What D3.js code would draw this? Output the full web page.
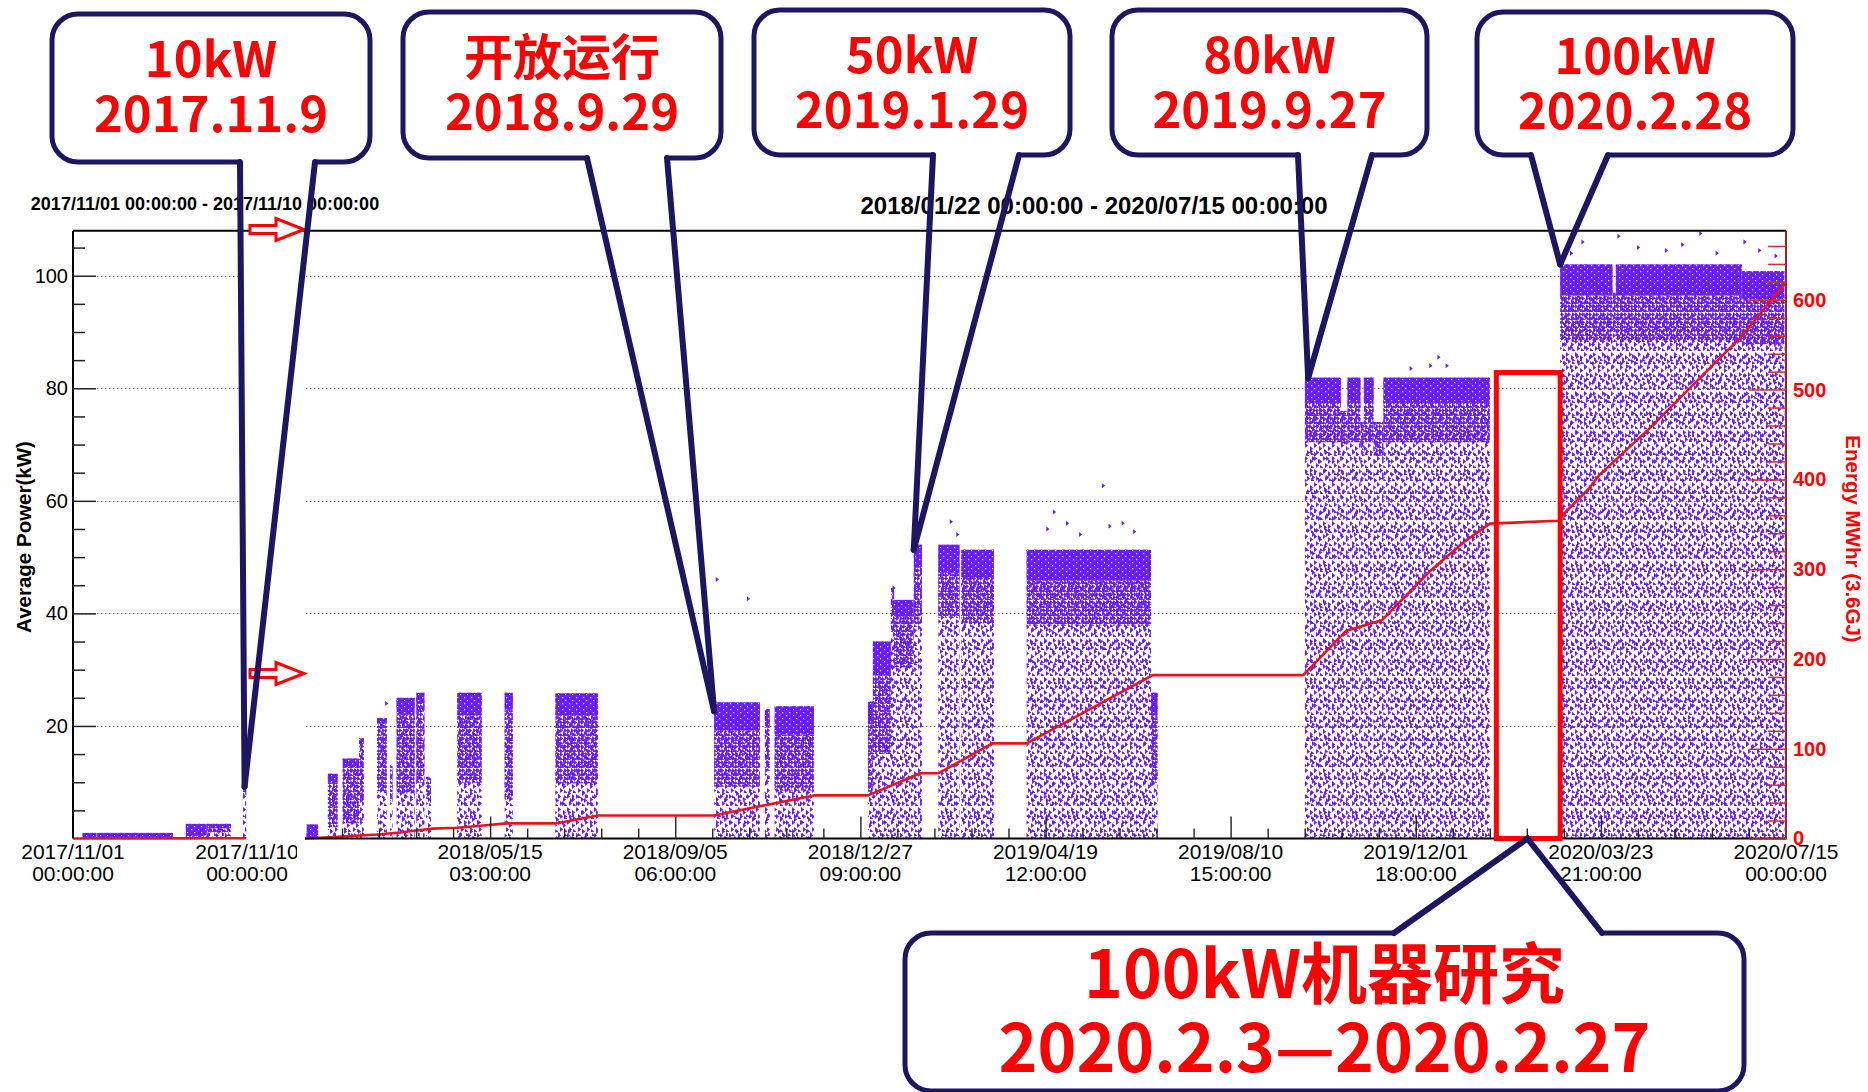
<!DOCTYPE html>
<html lang="zh">
<head>
<meta charset="utf-8">
<title>Beam power history</title>
<script src="https://cdn.jsdelivr.net/npm/d3@7/dist/d3.min.js"></script>
<style>
  html, body { margin: 0; padding: 0; background: #fff; }
  svg { display: block; }
</style>
</head>
<body>
<svg id="chart" width="1868" height="1092"></svg>
<script>
// ---------- time windows of the two panels ----------
const earlyWindow = ["2017-11-01T00:00", "2017-11-10T00:00"];
const mainWindow  = ["2018-01-22T00:00", "2020-07-15T00:00"];

// ---------- axis ticks ----------
const earlyTickLabels = ["2017/11/01 00:00:00", "2017/11/10 00:00:00"];
const mainTickLabels = [
  "2018/05/15 03:00:00", "2018/09/05 06:00:00", "2018/12/27 09:00:00",
  "2019/04/19 12:00:00", "2019/08/10 15:00:00", "2019/12/01 18:00:00",
  "2020/03/23 21:00:00", "2020/07/15 00:00:00"
];
const powerTicks  = [20, 40, 60, 80, 100];
const energyTicks = [0, 100, 200, 300, 400, 500, 600];

// ---------- beam-on periods: [start, end, top kW, dense band kW, medium band kW] ----------
const earlyRuns = [
  ["2017-11-01T12:00", "2017-11-02T05:00", 1.0, 1.0, 0],
  ["2017-11-02T06:00", "2017-11-06T04:00", 1.0, 1.0, 0],
  ["2017-11-06T20:00", "2017-11-07T22:00", 2.6, 2.0, 0.6],
  ["2017-11-07T22:00", "2017-11-09T04:00", 2.6, 0.8, 0.8],
  ["2017-11-09T19:00", "2017-11-09T23:00", 9.8, 0, 2]
];
const mainRuns = [
  ["2018-01-23", "2018-01-30", 2.5, 2.5, 0],
  ["2018-02-05", "2018-02-11", 11.5, 1.5, 8],
  ["2018-02-14", "2018-02-24", 14.2, 1.5, 10],
  ["2018-02-24", "2018-02-27", 17.8, 1.0, 10],
  ["2018-03-07", "2018-03-13", 21.4, 1.0, 12],
  ["2018-03-15", "2018-03-16", 13.0, 0, 6],
  ["2018-03-19", "2018-03-30", 25.0, 3.0, 14],
  ["2018-03-31", "2018-04-05", 25.9, 2.0, 14],
  ["2018-04-06", "2018-04-09", 11.0, 0, 4],
  ["2018-04-25", "2018-05-10", 25.9, 4.0, 12],
  ["2018-05-24", "2018-05-29", 25.9, 3.0, 16],
  ["2018-06-24", "2018-07-20", 25.8, 4.0, 12],
  ["2018-09-29", "2018-10-27", 24.2, 5.0, 10],
  ["2018-10-30", "2018-11-02", 23.0, 3.0, 8],
  ["2018-11-05", "2018-11-29", 23.5, 5.0, 10],
  ["2019-01-01", "2019-01-04", 24.3, 4.0, 12],
  ["2019-01-04", "2019-01-15", 35.0, 6.0, 14],
  ["2019-01-15", "2019-01-17", 44.5, 0, 8],
  ["2019-01-17", "2019-01-29", 42.4, 3.0, 9],
  ["2019-01-29", "2019-02-03", 52.2, 4.0, 10],
  ["2019-02-13", "2019-02-26", 52.2, 5.0, 8],
  ["2019-02-27", "2019-03-19", 51.3, 5.0, 8],
  ["2019-04-08", "2019-06-23", 51.3, 5.5, 8],
  ["2019-06-23", "2019-06-27", 25.9, 4.0, 12],
  ["2019-09-25", "2019-10-17", 81.9, 4.5, 7],
  ["2019-10-17", "2019-10-21", 76.0, 0, 6],
  ["2019-10-21", "2019-10-29", 81.9, 4.5, 7],
  ["2019-10-29", "2019-10-31", 74.0, 0, 5],
  ["2019-10-31", "2019-11-06", 81.9, 4.5, 7],
  ["2019-11-06", "2019-11-12", 74.0, 0, 6],
  ["2019-11-12", "2020-01-16", 81.9, 4.5, 7],
  ["2020-02-28", "2020-03-31", 102.0, 5.5, 8],
  ["2020-03-31", "2020-04-02", 97.0, 0, 7],
  ["2020-04-02", "2020-06-18", 102.0, 5.5, 8],
  ["2020-06-18", "2020-07-14", 100.8, 5.0, 8]
];

// ---------- isolated readings above the bands: [time, kW] ----------
const mainPeaks = [
  ["2018-03-12", 24.0], ["2018-09-30", 46.0], ["2018-10-19", 42.6],
  ["2019-01-16", 44.5], ["2019-02-20", 56.3], ["2019-02-24", 54.0],
  ["2019-04-20", 55.0], ["2019-04-24", 58.0], ["2019-05-02", 56.0],
  ["2019-05-10", 54.0], ["2019-05-24", 62.7], ["2019-05-28", 55.5],
  ["2019-06-05", 56.0], ["2019-06-12", 54.5], ["2019-11-28", 83.5],
  ["2019-12-10", 84.0], ["2019-12-15", 85.5], ["2019-12-20", 84.0],
  ["2020-03-05", 104.0], ["2020-03-12", 106.0], ["2020-04-03", 107.0],
  ["2020-04-15", 105.0], ["2020-05-02", 104.5], ["2020-05-12", 105.5],
  ["2020-05-23", 107.5], ["2020-06-02", 104.0], ["2020-06-19", 106.0],
  ["2020-06-28", 104.5], ["2020-07-08", 103.5]
];

// ---------- integrated energy: [time, MWh] ----------
const earlyEnergy = [["2017-11-01T00:00", 0], ["2017-11-06T00:00", 0.1], ["2017-11-09T23:00", 0.3]];
const mainEnergy = [
  ["2018-01-22", 0], ["2018-02-14", 2.2], ["2018-03-07", 4.5], ["2018-03-21", 6.7],
  ["2018-03-31", 8.9], ["2018-04-10", 11.0], ["2018-04-25", 12.0], ["2018-05-11", 14.5],
  ["2018-05-25", 16.8], ["2018-06-24", 16.8], ["2018-07-20", 25.7], ["2018-09-29", 25.7],
  ["2018-11-29", 48.0], ["2019-01-01", 48.0], ["2019-02-02", 72.6], ["2019-02-13", 72.6],
  ["2019-03-18", 106.0], ["2019-04-08", 106.0], ["2019-06-24", 182.0], ["2019-09-24", 182.0],
  ["2019-10-20", 231.0], ["2019-11-11", 243.0], ["2019-12-10", 297.0], ["2019-12-31", 330.0],
  ["2020-01-16", 350.7], ["2020-02-27", 354.0], ["2020-03-02", 363.0], ["2020-03-16", 388.7],
  ["2020-03-23", 405.0], ["2020-04-22", 455.7], ["2020-06-18", 559.6], ["2020-07-13", 615.4],
  ["2020-07-15", 618.0]
];

// ---------- annotations ----------
const calloutText = [
  ["10kW", "2017.11.9"],
  ["开放运行", "2018.9.29"],
  ["50kW", "2019.1.29"],
  ["80kW", "2019.9.27"],
  ["100kW", "2020.2.28"],
  ["100kW机器研究", "2020.2.3—2020.2.27"]
];
const calloutTips = [
  ["2017-11-09T21:00", 9.2], ["2018-09-29", 22.6], ["2019-01-29", 51.3],
  ["2019-09-27", 81.8], ["2020-02-28", 102.0], ["2020-02-08", 0]
];
const studyWindow = ["2020-01-20", "2020-02-28"];
const studyTop = 82.8;

// ================= drawing =================
const VIOLET = "#6a1cff";
const NAVY = "#1d1763";
const RED = "#ff0000";
const LINE_RED = "#e8141c";
const FONT = "'Liberation Sans', Arial, Helvetica, sans-serif";
const CJK = "'Noto Sans CJK SC', 'Noto Sans', sans-serif";
const MARK = "v5l3.2,-2.5z";   // small marker shape used for every reading

const parseDate = s => new Date(s.length === 10 ? s + "T00:00" : s);
const parseTick = d3.timeParse("%Y/%m/%d %H:%M:%S");
const fmtTitle = d3.timeFormat("%Y/%m/%d %H:%M:%S");

const svg = d3.select("#chart");
svg.append("rect").attr("width", 1868).attr("height", 1092).attr("fill", "#fff");

// panel geometry
const plotTop = 230.7, plotBottom = 838.5;
const earlyLeft = 73, earlyRight = 247;
const mainLeft = 305, mainRight = 1786;

const y  = d3.scaleLinear().domain([0, 108]).range([plotBottom, plotTop]);
const yE = d3.scaleLinear().domain([0, 677]).range([plotBottom, plotTop]);
const xEarly = d3.scaleTime().domain(earlyWindow.map(parseDate)).range([earlyLeft, earlyRight]);
const xMain  = d3.scaleTime().domain(mainWindow.map(parseDate)).range([mainLeft, mainRight]);
const xFor = s => (parseDate(s) < parseDate(mainWindow[0]) ? xEarly : xMain);

// ---------- textures for the scatter of readings ----------
const defs = svg.append("defs");
function texture(id, w, h, spots) {
  const p = defs.append("pattern").attr("id", id)
    .attr("patternUnits", "userSpaceOnUse").attr("width", w).attr("height", h);
  p.selectAll("path").data(spots).join("path")
    .attr("d", d => `M${d[0]},${d[1]}${MARK}`).attr("fill", VIOLET);
  return `url(#${id})`;
}
const sparseA = texture("sparseA", 9, 13, [[0, 1], [5, 4], [2, 8], [6, 10]]);
const sparseB = texture("sparseB", 14, 19, [[2, 3], [10, 0], [8, 12], [12, 15], [4, 16]]);
const midFill = texture("mid", 7, 8, [[0, 0], [3, 3], [4, 0], [0, 5], [5, 5]]);
const specks = defs.append("pattern").attr("id", "specks")
  .attr("patternUnits", "userSpaceOnUse").attr("width", 7).attr("height", 6);
specks.append("rect").attr("x", 2).attr("y", 1).attr("width", 1.2).attr("height", 1.2).attr("fill", "#fff");
specks.append("rect").attr("x", 5).attr("y", 4).attr("width", 1.2).attr("height", 1.2).attr("fill", "#fff");

defs.append("clipPath").attr("id", "earlyLabelClip")
  .append("rect").attr("x", 0).attr("y", 0).attr("width", 297).attr("height", 1092);

// ---------- grid ----------
const grid = svg.append("g").attr("stroke", "#666").attr("stroke-width", 1).attr("stroke-dasharray", "1.5,2.5");
[[earlyLeft, earlyRight - 3], [mainLeft + 1, mainRight]].forEach(([a, b]) => {
  grid.selectAll(null).data(powerTicks).join("line")
    .attr("x1", a).attr("x2", b)
    .attr("y1", d => Math.round(y(d)) + 0.5).attr("y2", d => Math.round(y(d)) + 0.5);
});

// ---------- readings ----------
function drawRuns(runs, xs) {
  const g = svg.append("g");
  runs.forEach(([s, e, top, dense, mid]) => {
    const x0 = xs(parseDate(s));
    const w = Math.max(xs(parseDate(e)) - x0, 2.5);
    const band = (lo, hi) => ({ y: y(hi), h: Math.max(y(lo) - y(hi), 0) });
    const all = band(0, top);
    g.append("rect").attr("x", x0).attr("y", all.y).attr("width", w).attr("height", all.h).attr("fill", sparseA);
    g.append("rect").attr("x", x0).attr("y", all.y).attr("width", w).attr("height", all.h).attr("fill", sparseB);
    if (mid > 0) {
      const m = band(Math.max(top - dense - mid, 0), top - dense);
      g.append("rect").attr("x", x0).attr("y", m.y).attr("width", w).attr("height", m.h).attr("fill", midFill);
    }
    if (dense > 0) {
      const d = band(top - dense, top);
      g.append("rect").attr("x", x0).attr("y", d.y).attr("width", w).attr("height", d.h).attr("fill", VIOLET);
      g.append("rect").attr("x", x0).attr("y", d.y).attr("width", w).attr("height", d.h).attr("fill", "url(#specks)");
    }
  });
}
drawRuns(earlyRuns, xEarly);
drawRuns(mainRuns, xMain);

svg.append("g").selectAll("path").data(mainPeaks).join("path")
  .attr("d", d => `M${xMain(parseDate(d[0]))},${y(d[1]) - 2.5}${MARK}`)
  .attr("fill", VIOLET);

// ---------- energy curve ----------
const energyLine = xs => d3.line().x(d => xs(parseDate(d[0]))).y(d => yE(d[1]));
svg.append("path").datum(earlyEnergy).attr("d", energyLine(xEarly))
  .attr("fill", "none").attr("stroke", LINE_RED).attr("stroke-width", 2.6);
svg.append("path").datum(mainEnergy).attr("d", energyLine(xMain))
  .attr("fill", "none").attr("stroke", LINE_RED).attr("stroke-width", 2.6).attr("stroke-linejoin", "round");

// ---------- frame ----------
const frame = svg.append("g").attr("stroke", "#000").attr("stroke-width", 2).attr("fill", "none");
frame.append("line").attr("x1", earlyLeft).attr("x2", mainRight).attr("y1", plotTop).attr("y2", plotTop);
frame.append("line").attr("x1", earlyLeft).attr("x2", earlyLeft).attr("y1", plotTop).attr("y2", plotBottom);
frame.append("line").attr("x1", mainLeft).attr("x2", mainRight).attr("y1", plotBottom).attr("y2", plotBottom);
svg.append("line").attr("x1", mainRight).attr("x2", mainRight).attr("y1", plotTop).attr("y2", plotBottom + 1)
  .attr("stroke", "#8a2a2a").attr("stroke-width", 2);

// ---------- left power axis ----------
const minorPower = d3.range(5, 106, 5).filter(v => v % 20 !== 0);
const gyMinor = svg.append("g").attr("transform", `translate(${earlyLeft},0)`)
  .call(d3.axisLeft(y).tickValues(minorPower).tickSize(-12).tickFormat(""));
gyMinor.select(".domain").remove();
gyMinor.selectAll("line").attr("stroke", "#222").attr("stroke-width", 1.5);
const gy = svg.append("g").attr("transform", `translate(${earlyLeft},0)`)
  .call(d3.axisLeft(y).tickValues(powerTicks).tickSize(-23).tickPadding(5));
gy.select(".domain").remove();
gy.selectAll("line").attr("stroke", "#222").attr("stroke-width", 1.5);
gy.selectAll("text").attr("font-family", FONT).attr("font-size", 20).attr("fill", "#000");

svg.append("text")
  .attr("transform", "translate(24,537) rotate(-90)")
  .attr("text-anchor", "middle").attr("dy", "0.35em")
  .attr("font-family", FONT).attr("font-weight", "bold").attr("font-size", 20.5)
  .text("Average Power(kW)");

// ---------- right energy axis ----------
const minorEnergy = d3.range(20, 670, 20).filter(v => v % 100 !== 0);
const geMinor = svg.append("g").attr("transform", `translate(${mainRight},0)`)
  .call(d3.axisRight(yE).tickValues(minorEnergy).tickSize(-18).tickFormat(""));
geMinor.select(".domain").remove();
geMinor.selectAll("line").attr("stroke", "#d42a2a").attr("stroke-width", 1.5);
const ge = svg.append("g").attr("transform", `translate(${mainRight},0)`)
  .call(d3.axisRight(yE).tickValues(energyTicks).tickSize(-37).tickPadding(7));
ge.select(".domain").remove();
ge.selectAll("line").attr("stroke", "#d42a2a").attr("stroke-width", 1.5);
ge.selectAll("text").attr("font-family", FONT).attr("font-weight", "bold")
  .attr("font-size", 20).attr("fill", RED);

svg.append("text")
  .attr("transform", "translate(1853,539) rotate(90)")
  .attr("text-anchor", "middle").attr("dy", "0.35em")
  .attr("font-family", FONT).attr("font-weight", "bold").attr("font-size", 20.5)
  .attr("fill", RED)
  .text("Energy MWhr (3.6GJ)");

// ---------- time axes ----------
const mainTickDates = mainTickLabels.map(parseTick);
const majorSteps = [parseDate(mainWindow[0]), ...mainTickDates];
const minorDates = [];
for (let i = 0; i < majorSteps.length - 1; i++) {
  const a = +majorSteps[i], b = +majorSteps[i + 1];
  for (let k = 1; k < 5; k++) minorDates.push(new Date(a + (b - a) * k / 5));
}
const gxMinor = svg.append("g").attr("transform", `translate(0,${plotBottom})`)
  .call(d3.axisBottom(xMain).tickValues(minorDates).tickSize(-10).tickFormat(""));
gxMinor.select(".domain").remove();
gxMinor.selectAll("line").attr("stroke", "#222").attr("stroke-width", 1.4);
const gx = svg.append("g").attr("transform", `translate(0,${plotBottom})`)
  .call(d3.axisBottom(xMain).tickValues(mainTickDates.filter(d => +d < +xMain.domain()[1])).tickSize(-22).tickFormat(""));
gx.select(".domain").remove();
gx.selectAll("line").attr("stroke", "#222").attr("stroke-width", 1.4);

function tickLabels(labels, xs, clip) {
  const g = svg.append("g").attr("font-family", FONT).attr("font-size", 21)
    .attr("text-anchor", "middle").attr("fill", "#000");
  if (clip) g.attr("clip-path", "url(#earlyLabelClip)");
  g.selectAll("text").data(labels).join("text")
    .attr("x", d => xs(parseTick(d)))
    .attr("y", plotBottom + 20)
    .each(function (d) {
      const [day, time] = d.split(" ");
      const t = d3.select(this);
      t.append("tspan").attr("x", xs(parseTick(d))).text(day);
      t.append("tspan").attr("x", xs(parseTick(d))).attr("dy", 22).text(time);
    });
}
tickLabels(earlyTickLabels, xEarly, true);
tickLabels(mainTickLabels, xMain, false);

// ---------- panel titles ----------
svg.append("text").attr("x", 205).attr("y", 210).attr("text-anchor", "middle")
  .attr("font-family", FONT).attr("font-weight", "bold").attr("font-size", 18)
  .text(earlyWindow.map(s => fmtTitle(parseDate(s))).join(" - "));
svg.append("text").attr("x", 1094).attr("y", 214).attr("text-anchor", "middle")
  .attr("font-family", FONT).attr("font-weight", "bold").attr("font-size", 24)
  .text(mainWindow.map(s => fmtTitle(parseDate(s))).join(" - "));

// ---------- hollow arrows pointing from the first panel to the second ----------
const arrowAt = [229.5, 673.5];
svg.append("g").selectAll("path").data(arrowAt).join("path")
  .attr("d", c => `M250,${c - 4}H276V${c - 11}L304,${c}L276,${c + 11}V${c + 4}H250Z`)
  .attr("fill", "#fff").attr("stroke", RED).attr("stroke-width", 3).attr("stroke-linejoin", "miter");

// ---------- red box around the 100 kW machine study ----------
svg.append("rect")
  .attr("x", xMain(parseDate(studyWindow[0])))
  .attr("y", y(studyTop))
  .attr("width", xMain(parseDate(studyWindow[1])) - xMain(parseDate(studyWindow[0])))
  .attr("height", y(0) - y(studyTop))
  .attr("fill", "none").attr("stroke", RED).attr("stroke-width", 5);

// ---------- callouts ----------
const calloutLayout = [
  { x: 52,   y: 14,  w: 318, h: 148, base: [240, 315],   size: 49, l1: 63, l2: 118 },
  { x: 403,  y: 12,  w: 318, h: 146, base: [587, 667],   size: 49, l1: 63, l2: 118 },
  { x: 754,  y: 10,  w: 316, h: 145, base: [933, 1019],  size: 49, l1: 63, l2: 118 },
  { x: 1112, y: 10,  w: 315, h: 145, base: [1298, 1372], size: 49, l1: 63, l2: 118 },
  { x: 1477, y: 12,  w: 316, h: 143, base: [1531, 1608], size: 49, l1: 62, l2: 117 },
  { x: 905,  y: 933, w: 839, h: 158, base: [1394, 1602], size: 66, l1: 65, l2: 139, up: true }
];
calloutText.forEach((lines, i) => {
  const L = calloutLayout[i];
  const [tDate, tVal] = calloutTips[i];
  const tx = xFor(tDate)(parseDate(tDate)), ty = y(tVal);
  const g = svg.append("g");
  g.append("rect").attr("x", L.x).attr("y", L.y).attr("width", L.w).attr("height", L.h)
    .attr("rx", 26).attr("fill", "#fff").attr("stroke", NAVY).attr("stroke-width", 5);
  const edge = L.up ? L.y : L.y + L.h;
  g.append("line").attr("x1", L.base[0]).attr("x2", L.base[1]).attr("y1", edge).attr("y2", edge)
    .attr("stroke", "#fff").attr("stroke-width", 7);
  L.base.forEach(bx => {
    g.append("line").attr("x1", bx).attr("y1", edge).attr("x2", tx).attr("y2", ty)
      .attr("stroke", NAVY).attr("stroke-width", 6).attr("stroke-linecap", "round");
  });
  const cx = L.x + L.w / 2;
  [L.l1, L.l2].forEach((dy, k) => {
    g.append("text").attr("x", cx).attr("y", L.y + dy).attr("text-anchor", "middle")
      .attr("font-family", CJK).attr("font-weight", 700).attr("font-size", L.size)
      .attr("fill", RED).text(lines[k]);
  });
});
</script>
</body>
</html>
